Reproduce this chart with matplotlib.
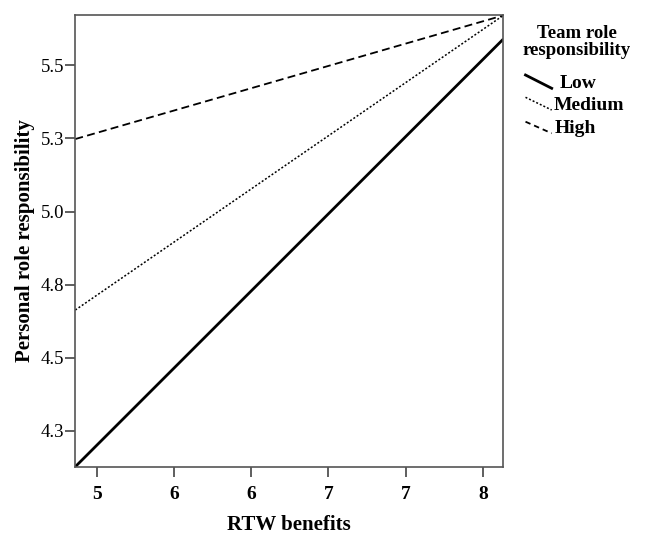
import matplotlib
matplotlib.use("Agg")
import matplotlib.pyplot as plt
from matplotlib.lines import Line2D

# data
x_ends = [4.861, 7.633]
low = [4.127, 5.590]
medium = [4.663, 5.671]
high = [5.248, 5.671]

x_ticks = [5.0, 5.5, 6.0, 6.5, 7.0, 7.5]
x_labels = ["5", "6", "6", "7", "7", "8"]
y_ticks = [4.25, 4.5, 4.75, 5.0, 5.25, 5.5]
y_labels = ["4.3", "4.5", "4.8", "5.0", "5.3", "5.5"]

legend_names = ["Low", "Medium", "High"]

plt.rcParams["font.family"] = ["Liberation Serif", "DejaVu Serif"]

fig = plt.figure(figsize=(6.48, 5.34), dpi=100)
ax = fig.add_axes([0.1162, 0.1260, 0.6605, 0.8468])

ax.plot(x_ends, low, color="black", lw=2.0, solid_capstyle="butt")
ax.plot(x_ends, medium, color="black", lw=1.1, linestyle=(0, (1.3, 1.3)))
ax.plot(x_ends, high, color="black", lw=1.3, linestyle=(0, (4.4, 2.4)))

ax.set_xlim(4.861, 7.633)
ax.set_ylim(4.127, 5.674)

ax.set_xticks(x_ticks)
ax.set_xticklabels(x_labels, fontsize=14, fontweight="bold")
ax.set_yticks(y_ticks)
ax.set_yticklabels(y_labels, fontsize=13.5)
ax.tick_params(direction="out", length=7, width=1.1, color="#333333", pad=1)
ax.tick_params(axis="x", pad=7)

for s in ax.spines.values():
    s.set_color("#555555")
    s.set_linewidth(1.2)

ax.set_xlabel("RTW benefits", fontsize=15, fontweight="bold")
ax.xaxis.set_label_coords(0.5, -0.128)
ax.xaxis.label.set_va("center")
ax.set_ylabel("Personal role responsibility", fontsize=15, fontweight="bold")
ax.yaxis.set_label_coords(-0.118, 0.5)
ax.yaxis.label.set_va("center")

# legend with slanted handles, drawn in figure pixels
W, H = 648.0, 534.0
fig.text(577 / W, 1 - 42 / H, "Team role\nresponsibility", ha="center", va="center",
         fontsize=13.5, fontweight="bold", linespacing=1.05)

styles = [dict(lw=2.0), dict(lw=1.1, linestyle=(0, (1.3, 1.3))), dict(lw=1.3, linestyle=(0, (3.0, 2.2)))]
handle_y = [(75, 88.3), (97.3, 110), (121.7, 133.3)]
text_pos = [(560, 83.3), (554, 106), (555, 128.3)]
for name, st, (y0, y1), (tx, ty) in zip(legend_names, styles, handle_y, text_pos):
    fig.add_artist(Line2D([525.5 / W, 551.7 / W], [1 - y0 / H, 1 - y1 / H], color="black", **st))
    fig.text(tx / W, 1 - ty / H, name, ha="left", va="center", fontsize=14, fontweight="bold")

fig.savefig("out.png", dpi=100)
